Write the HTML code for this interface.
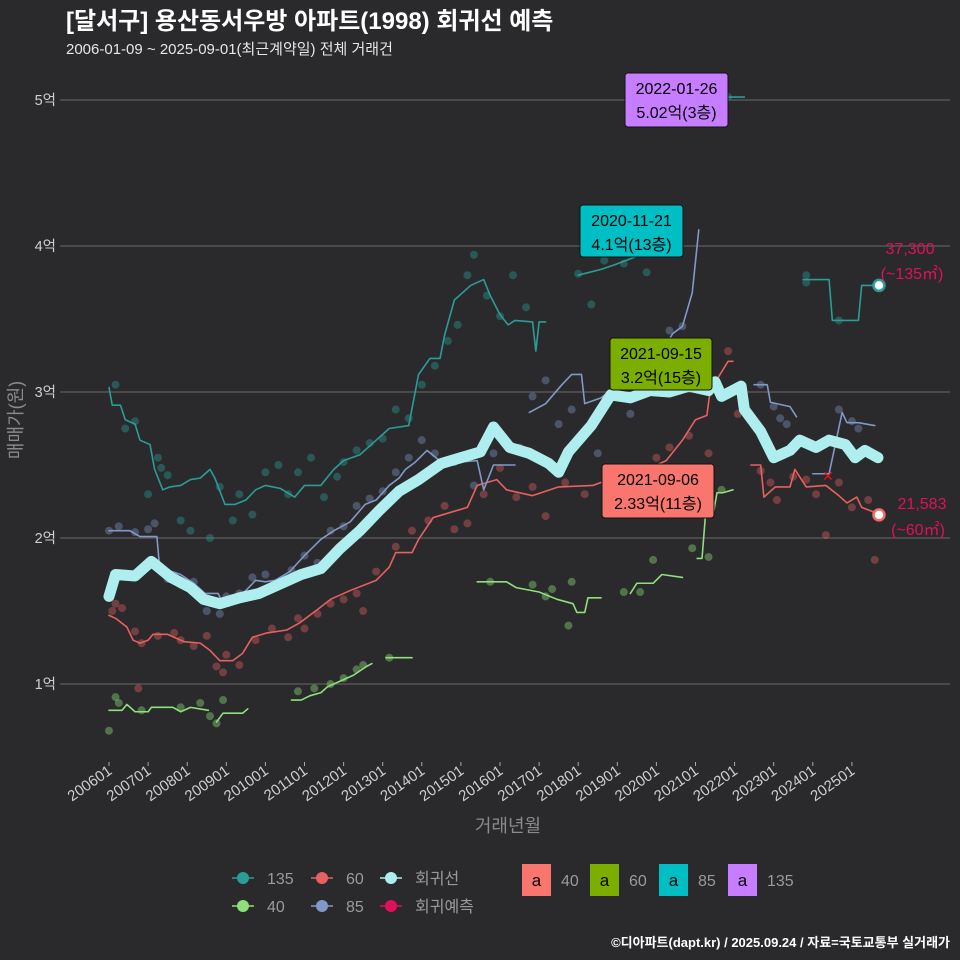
<!DOCTYPE html>
<html><head><meta charset="utf-8">
<style>
html,body{margin:0;padding:0;background:#2a2a2c;}
svg{display:block;font-family:"Liberation Sans","Noto Sans CJK KR",sans-serif;}
</style></head>
<body>
<svg id="chart" width="960" height="960" viewBox="0 0 960 960">
<rect width="960" height="960" fill="#2a2a2c"/>
<text x="66" y="29" fill="#ffffff" font-size="24" font-weight="bold">[달서구] 용산동서우방 아파트(1998) 회귀선 예측</text>
<text x="66" y="54" fill="#e6e6e6" font-size="15">2006-01-09 ~ 2025-09-01(최근계약일) 전체 거래건</text>
<g id="grid"></g>
<g id="dots"></g>
<g id="lines"></g>
<g id="xaxis"></g>
<text x="508" y="832" fill="#8a8a8a" font-size="18" text-anchor="middle">거래년월</text>
<text transform="translate(22,420) rotate(-90)" fill="#8a8a8a" font-size="18" text-anchor="middle">매매가(원)</text>
<g id="annot"></g>
<g id="legend"></g>
<text x="950" y="947" fill="#ffffff" font-size="13" font-weight="bold" text-anchor="end">©디아파트(dapt.kr) / 2025.09.24 / 자료=국토교통부 실거래가</text>
</svg>
<script>
// months since 2006-01, values in 억
const yTicks = [1,2,3,4,5];
const yTickLabels = ["1억","2억","3억","4억","5억"];
const xTickLabels = ["200601","200701","200801","200901","201001","201101","201201","201301","201401","201501","201601","201701","201801","201901","202001","202101","202201","202301","202401","202501"];
const regM = [0,2,8,13,19,25,29,34,40,46,52,59,65,71,77,83,89,95,102,108,114,118,123,129,135,138,141,148,154,160,166,172,178,184,186,188,194,195,200,204,209,212,217,221,226,229,232,236];
const regV = [1.60,1.75,1.74,1.84,1.73,1.66,1.58,1.55,1.59,1.62,1.68,1.75,1.79,1.93,2.05,2.19,2.32,2.40,2.51,2.55,2.59,2.76,2.62,2.58,2.51,2.45,2.59,2.77,2.98,2.96,3.01,3.00,3.04,3.01,3.07,2.97,3.04,2.88,2.73,2.55,2.60,2.67,2.62,2.67,2.64,2.55,2.60,2.55];
const s135 = [
 [[0,3.03],[1,2.91],[3.5,2.91],[5,2.81],[8,2.78],[9.5,2.67],[12.6,2.64],[14,2.47],[16.5,2.33],[18.7,2.35],[22,2.36],[25,2.40],[28,2.41],[31,2.47],[32.5,2.41],[35.6,2.23],[38.7,2.23],[42,2.26],[45,2.33],[48,2.36],[52.5,2.34],[57,2.28],[60,2.36],[65,2.36],[69,2.47],[72,2.53],[77,2.57],[82,2.67],[86,2.75],[92,2.77],[95,3.12],[98.5,3.23],[101.6,3.23],[103,3.39],[106,3.63],[111,3.73],[115,3.77],[117,3.66],[120,3.53],[122.5,3.46],[124.6,3.49],[130,3.48],[131,3.28],[132,3.48],[134,3.48]],
 [[144,3.80],[151,3.84],[155,3.87],[161,3.92],[166,3.96]],
 [[190,5.02],[195,5.02]],
 [[213,3.77],[221,3.77],[222,3.49],[230,3.49],[231,3.73],[236,3.73]]
];
const s85 = [
 [[0,2.05],[6.4,2.05],[9.5,2.01],[14.7,2.01],[15.6,1.78],[18,1.78],[22,1.75],[26,1.69],[29.5,1.62],[33.5,1.62],[35,1.55],[38.7,1.59],[42,1.64],[45,1.71],[48,1.70],[51,1.71],[55.5,1.77],[60,1.88],[65,1.99],[69,2.05],[74,2.11],[78.6,2.23],[82,2.26],[86,2.36],[89,2.41],[91,2.47],[94,2.52],[97.6,2.60],[102.5,2.51],[113,2.53],[115,2.33],[118,2.50],[124.6,2.50]],
 [[129,2.86],[134,2.92],[139,3.05],[142,3.12],[145,3.12],[146,2.92],[151,2.96],[155,3.03],[165,3.10],[173,3.40],[176,3.45],[179,3.68],[181,4.11]],
 [[198,3.05],[202,3.05],[203,2.93],[209,2.90],[211,2.83]],
 [[216,2.44],[221,2.44],[225,2.86],[226.5,2.79],[230,2.79],[235,2.77]]
];
const s60 = [
 [[0,1.47],[2,1.45],[5.5,1.39],[7.4,1.30],[9.5,1.28],[12,1.30],[13.5,1.34],[18,1.34],[23,1.29],[28,1.28],[31,1.23],[34,1.16],[38,1.16],[41,1.21],[44,1.32],[48.5,1.35],[54.6,1.37],[58.6,1.42],[64,1.51],[68,1.58],[74,1.64],[82,1.71],[86,1.80],[88,1.90],[93,1.90],[95,1.99],[99.5,2.14],[110,2.21],[113,2.36],[119,2.40],[122,2.33],[130,2.29],[138,2.35],[148.5,2.36],[151,2.38],[160,2.42],[171,2.53],[176,2.67],[180,2.81],[183.5,2.84],[184.5,3.01],[190,3.21],[191.5,3.21]],
 [[197,2.50],[200,2.50],[201,2.28],[204.5,2.35],[209,2.35],[210.5,2.47],[214,2.35],[220,2.36],[224,2.29],[226.5,2.24],[229.5,2.28],[231,2.21],[234.5,2.18]]
];
const s40 = [
 [[0,0.82],[4,0.82],[5.5,0.86],[8,0.81],[12,0.81],[13,0.84],[19.6,0.84],[22,0.81],[25,0.84],[30.5,0.82]],
 [[33,0.74],[35,0.80],[41,0.80],[42.6,0.83]],
 [[56,0.89],[59,0.89],[61.7,0.92],[65,0.94],[67,0.98],[70,1.01],[75,1.06],[79,1.12],[80.7,1.14]],
 [[85,1.18],[93,1.18]],
 [[113,1.70],[122,1.70],[125,1.66],[132,1.63],[137.5,1.58],[142.4,1.55],[143.6,1.49],[146,1.49],[147,1.59],[151,1.59]],
 [[160,1.62],[162,1.69],[167,1.69],[169.7,1.75],[176,1.73]],
 [[180.5,1.86],[182,1.86],[183,2.14],[185.5,2.17],[186.6,2.31],[188.4,2.31],[191.5,2.33]]
];
const d135 = [[2,3.05],[8,2.80],[5,2.75],[12,2.30],[15,2.55],[16,2.48],[18,2.43],[22,2.12],[25,2.05],[31,2.00],[34,2.35],[38,2.12],[40,2.30],[44,2.16],[48,2.45],[52,2.50],[55,2.30],[58,2.45],[62,2.55],[66,2.28],[70,2.42],[72,2.52],[76,2.60],[80,2.65],[84,2.68],[88,2.88],[92,2.82],[96,3.05],[100,3.18],[104,3.35],[107,3.46],[110,3.80],[112,3.94],[116,3.66],[120,3.52],[124,3.80],[128,3.58],[144,3.81],[148,3.60],[152,3.90],[158,3.88],[162,4.04],[165,3.82],[214,3.80],[214,3.75],[224,3.49],[190,5.02]];
const d85 = [[0,2.05],[3,2.08],[8,2.04],[12,2.06],[14,2.10],[18,1.72],[22,1.68],[26,1.70],[30,1.50],[34,1.48],[36,1.60],[40,1.62],[44,1.73],[48,1.75],[52,1.67],[56,1.78],[60,1.88],[64,1.83],[68,2.05],[72,2.08],[76,2.22],[80,2.27],[84,2.32],[88,2.45],[92,2.55],[96,2.67],[100,2.58],[106,2.52],[112,2.36],[118,2.58],[126,2.62],[130,2.97],[134,3.08],[138,2.78],[142,2.88],[150,2.58],[160,2.85],[168,3.28],[172,3.42],[176,3.45],[200,3.05],[204,2.90],[206,2.82],[208,2.78],[224,2.88],[228,2.80],[230,2.75]];
const d60 = [[2,1.55],[1,1.50],[4,1.52],[8,1.36],[10,1.28],[15,1.33],[20,1.35],[22,1.30],[26,1.26],[30,1.33],[33,1.12],[35,1.08],[36,1.20],[40,1.13],[45,1.30],[50,1.38],[55,1.32],[58,1.45],[60,1.38],[64,1.48],[68,1.55],[72,1.58],[76,1.62],[78,1.50],[82,1.77],[88,1.94],[93,2.05],[98,2.12],[103,2.22],[106,2.06],[110,2.10],[115,2.30],[120,2.48],[125,2.28],[130,2.35],[134,2.15],[140,2.38],[146,2.30],[155,2.45],[163,2.46],[168,2.55],[172,2.62],[178,2.70],[184,2.58],[190,3.28],[193,2.85],[200,2.46],[203,2.38],[205,2.26],[210,2.42],[214,2.40],[217,2.30],[220,2.02],[224,2.38],[228,2.21],[233,2.26],[235,1.85],[9,0.97]];
const d40 = [[0,0.68],[2,0.91],[3,0.87],[10,0.82],[22,0.84],[28,0.87],[31,0.78],[33,0.73],[35,0.89],[58,0.95],[63,0.97],[68,1.00],[72,1.04],[76,1.10],[78,1.13],[86,1.18],[117,1.70],[130,1.68],[134,1.60],[136,1.65],[141,1.40],[142,1.70],[158,1.63],[163,1.63],[167,1.85],[179,1.93],[184,1.87],[188,2.33]];
const predMonths = [236,236];
const predValues = [3.73,2.1583];

const NS = "http://www.w3.org/2000/svg";
function X(m){ return 109 + m*39.1/12; }
function Y(v){ return 830 - v*146; }
function mk(tag, attrs, parent){ const e=document.createElementNS(NS,tag); for(const k in attrs) e.setAttribute(k,attrs[k]); parent.appendChild(e); return e; }

const grid=document.getElementById('grid');
yTicks.forEach((t,i)=>{
  const l=mk('line',{x1:60,x2:950,y1:Y(t),y2:Y(t),stroke:'#5e5e5e','stroke-width':1.2},grid);
  
  
  const tx=mk('text',{x:56,y:Y(t)+5,fill:'#cfcfcf','font-size':14.5,'text-anchor':'end'},grid);
  tx.textContent=yTickLabels[i];
  
  
});
const xa=document.getElementById('xaxis');
xTickLabels.forEach((lab,i)=>{
  const x=X(i*12);
  const tk=mk('line',{x1:x,x2:x,y1:762,y2:766,stroke:'#aaa','stroke-width':1},xa);
  
  
  const tx=mk('text',{transform:`translate(${x+4},${773}) rotate(-35)`,fill:'#cfcfcf','font-size':15,'text-anchor':'end'},xa);
  tx.textContent=lab;
  
  
});

const dots=document.getElementById('dots');
function drawDots(arr,color,name){
  arr.forEach(p=>{
    const c=mk('circle',{cx:X(p[0]),cy:Y(p[1]),r:4,fill:color,'fill-opacity':0.4},dots);
    
    
  });
}
drawDots(d135,'#2a9d96','dot-135');
drawDots(d85,'#7f96c2','dot-85');
drawDots(d60,'#e0605e','dot-60');
drawDots(d40,'#8ee07a','dot-40');

const lines=document.getElementById('lines');
function drawSeg(segs,color,w,name){
  segs.forEach(s=>{
    const pl=mk('polyline',{points:s.map(p=>X(p[0])+','+Y(p[1])).join(' '),fill:'none',stroke:color,'stroke-width':w,'stroke-linejoin':'round','stroke-linecap':'round'},lines);
    
    
  });
}
drawSeg(s135,'#2a9d96',1.6,'line-135');
drawSeg(s40,'#8ee07a',1.6,'line-40');
drawSeg(s60,'#e8605f',1.6,'line-60');
drawSeg(s85,'#8199c6',1.6,'line-85');
const reg=mk('polyline',{points:regM.map((m,i)=>X(m)+','+Y(regV[i])).join(' '),fill:'none',stroke:'#aeeeee','stroke-width':11,'stroke-linejoin':'round','stroke-linecap':'round'},lines);



const xm=mk('text',{x:828,y:481,fill:'#ee1111','font-size':14,'text-anchor':'middle'},lines);
xm.textContent='✕';



const predCols=['#2a9d96','#f06a68'];
predMonths.forEach((m,i)=>{
  const c=mk('circle',{cx:X(m)+1,cy:Y(predValues[i]),r:5.5,fill:'#ffffff',stroke:predCols[i],'stroke-width':2.5},lines);
  
  
});

const an=document.getElementById('annot');
function box(x,y,w,h,col,l1,l2,name){
  const g=mk('g',{},an);
  
  
  mk('rect',{x:x,y:y,width:w,height:h,rx:3,fill:col,stroke:'#111','stroke-width':1},g);
  const t1=mk('text',{x:x+w/2,y:y+21,'font-size':16,fill:'#000','text-anchor':'middle'},g); t1.textContent=l1;
  const t2=mk('text',{x:x+w/2,y:y+45,'font-size':16,fill:'#000','text-anchor':'middle'},g); t2.textContent=l2;
}
box(625,73,103,54,'#c77dff','2022-01-26','5.02억(3층)','label-135-max');
box(580,205,103,52,'#00bfc4','2020-11-21','4.1억(13층)','label-85-max');
box(610,338,102,52,'#7cae00','2021-09-15','3.2억(15층)','label-60-max');
box(602,464,112,54,'#f8766d','2021-09-06','2.33억(11층)','label-40-max');
function ptxt(x,y,s,name){ const t=mk('text',{x:x,y:y,'font-size':16,fill:'#e0105a','text-anchor':'middle'},an); t.textContent=s;
    }
ptxt(910,254,'37,300','prediction-135-value');
ptxt(912,279,'(~135㎡)','prediction-135-area');
ptxt(922,509,'21,583','prediction-60-value');
ptxt(918,535,'(~60㎡)','prediction-60-area');

const lg=document.getElementById('legend');
const keys=[[243,878,'#2a9d96','135'],[322,878,'#e8605f','60'],[391,878,'#aeeeee','회귀선'],[243,906,'#8ee07a','40'],[322,906,'#8199c6','85'],[391,906,'#e0105a','회귀예측']];
keys.forEach(k=>{
  const g=mk('g',{},lg);
  
  
  mk('line',{x1:k[0]-11,x2:k[0]+11,y1:k[1],y2:k[1],stroke:k[2],'stroke-width':1.6},g);
  mk('circle',{cx:k[0],cy:k[1],r:6,fill:k[2]},g);
  const t=mk('text',{x:k[0]+24,y:k[1]+6,'font-size':16,fill:'#9a9a9a'},g); t.textContent=k[3];
});
const bkeys=[[522,'#f8766d','40'],[590,'#7cae00','60'],[659,'#00bfc4','85'],[728,'#c77dff','135']];
bkeys.forEach(k=>{
  const g=mk('g',{},lg);
  
  
  mk('rect',{x:k[0],y:864,width:29,height:32,fill:k[1]},g);
  const a=mk('text',{x:k[0]+14.5,y:886,'font-size':17,fill:'#000','text-anchor':'middle'},g); a.textContent='a';
  const t=mk('text',{x:k[0]+39,y:886,'font-size':16,fill:'#9a9a9a'},g); t.textContent=k[2];
});
</script>
</body></html>
